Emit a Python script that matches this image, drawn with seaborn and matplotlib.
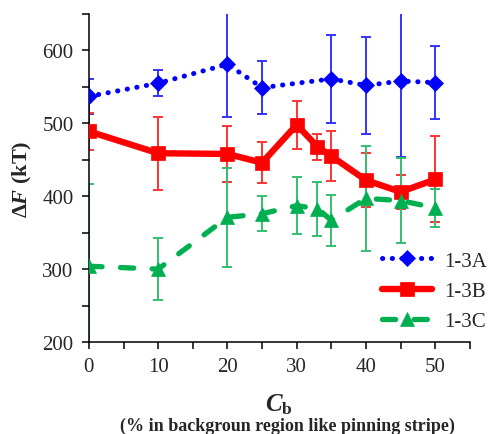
import matplotlib
matplotlib.use("Agg")
import matplotlib.pyplot as plt
import seaborn as sns
import pandas as pd
import numpy as np

# Data: free-energy barrier versus pinning-stripe-like background fraction
cb_a = [0, 10, 20, 25, 35, 40, 45, 50]
df_a = [537, 555, 581, 549, 561, 552, 558, 556]
err_a = [24, 18, 72, 36, 60, 67, 104, 50]

cb_b = [0, 10, 20, 25, 30, 33, 35, 40, 45, 50]
df_b = [489, 459, 458, 446, 498, 468, 455, 422, 406, 423]
err_b = [25, 50, 39, 28, 33, 18, 34, 37, 23, 59]

cb_c = [0, 10, 20, 25, 30, 33, 35, 40, 45, 50]
df_c = [304, 300, 371, 376, 387, 383, 367, 397, 394, 384]
err_c = [113, 43, 68, 24, 39, 37, 35, 72, 58, 26]

labels = ["1-3A", "1-3B", "1-3C"]
x_ticks = [0, 10, 20, 30, 40, 50]
y_ticks = [200, 300, 400, 500, 600]

sns.set_theme(style="ticks")
plt.rcParams["font.family"] = ["Liberation Serif", "DejaVu Serif"]
plt.rcParams["mathtext.fontset"] = "custom"
plt.rcParams["mathtext.rm"] = "Liberation Serif"
plt.rcParams["mathtext.it"] = "Liberation Serif:italic"
plt.rcParams["mathtext.bf"] = "Liberation Serif:bold"
plt.rcParams["mathtext.bfit"] = "Liberation Serif:italic:bold"

fig = plt.figure(figsize=(4.91, 4.35), dpi=100)
ax = fig.add_axes([0.181, 0.2115, 0.776, 0.754])

frames = []
for lab, xs, ys in zip(labels, [cb_a, cb_b, cb_c], [df_a, df_b, df_c]):
    frames.append(pd.DataFrame({"Cb": xs, "dF": ys, "series": lab}))
data = pd.concat(frames, ignore_index=True)

blue, red, green = "#0000FF", "#FF0000", "#00B050"
err_cols = ["#3333FF", "#FF3333", "#33C070"]

# error bars underneath
for xs, ys, es, ec in zip([cb_a, cb_b, cb_c], [df_a, df_b, df_c],
                          [err_a, err_b, err_c], err_cols):
    ax.errorbar(xs, ys, yerr=es, fmt="none", ecolor=ec, elinewidth=1.4,
                capsize=3.5, capthick=1.4, zorder=2)

styles = {
    "1-3A": dict(color=blue, lw=3.6, linestyle=(0, (0.05, 1.9)),
                 dash_capstyle="round", marker="D", markersize=8.5),
    "1-3B": dict(color=red, lw=4.6, linestyle="-",
                 marker="s", markersize=10.5),
    "1-3C": dict(color=green, lw=3.8, linestyle=(0, (2.5, 3.5)),
                 dash_capstyle="round", marker="^", markersize=10.5),
}

for lab in labels:
    st = styles[lab]
    sns.lineplot(data=data[data["series"] == lab], x="Cb", y="dF", ax=ax,
                 color=st["color"], lw=st["lw"], linestyle=st["linestyle"],
                 dash_capstyle=st.get("dash_capstyle", "butt"),
                 marker=st["marker"], markersize=st["markersize"],
                 markeredgecolor=st["color"], markeredgewidth=0.5,
                 label=lab, zorder=3, errorbar=None, sort=False)

ax.set_xlim(0, 55)
ax.set_ylim(200, 650)
ax.set_xticks(x_ticks)
ax.set_xticks(np.arange(0, 56, 5), minor=True)
ax.set_yticks(y_ticks)
ax.set_yticks(np.arange(200, 651, 50), minor=True)
ax.tick_params(axis="both", which="both", direction="out", length=5,
               width=1.1, color="black", labelsize=15, pad=6)
ax.tick_params(axis="both", which="minor", labelbottom=False, labelleft=False)
for side in ["top", "right"]:
    ax.spines[side].set_visible(False)
for side in ["left", "bottom"]:
    ax.spines[side].set_linewidth(1.1)
    ax.spines[side].set_color("black")
ax.spines["left"].set_bounds(200, 650)
ax.spines["bottom"].set_bounds(0, 55)

ax.set_xlabel(r"$\mathbfit{C}_{\mathbf{b}}$", fontsize=18, labelpad=11)
ax.set_ylabel(r"Δ$\mathbfit{F}$ (kT)", fontsize=16, fontweight="bold")
ax.yaxis.set_label_coords(-0.145, 0.5)
fig.text(0.585, 0.0, "(% in backgroun region like pinning stripe)",
         ha="center", va="bottom", fontsize=13, fontweight="bold")

handles, hl = ax.get_legend_handles_labels()
leg = ax.legend(handles, hl, loc="upper left",
                bbox_to_anchor=(382 / 491, 1 - 252 / 435),
                bbox_transform=fig.transFigure, frameon=False,
                fontsize=15, handlelength=2.4, handletextpad=0.6,
                labelspacing=0.52, borderpad=0, borderaxespad=0)

fig.savefig("out.png", dpi=100)
